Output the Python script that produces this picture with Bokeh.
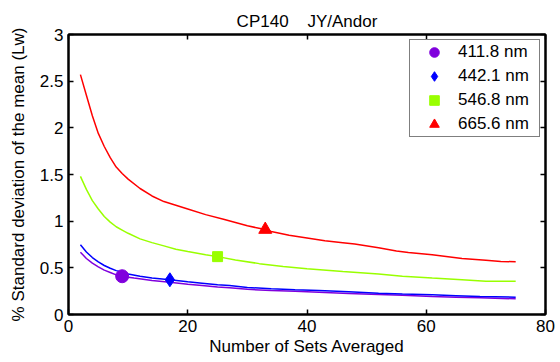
from bokeh.plotting import figure
from bokeh.models import Range1d, LinearAxis, Legend, LegendItem, FixedTicker
from bokeh.embed import file_html
from bokeh.resources import INLINE

# ---- data ----
x_purple = [2, 3, 4, 5, 6, 7, 8, 9, 10, 11, 14, 17, 20, 22.4, 25, 27, 30, 34, 38, 42, 47, 52, 56, 61, 65, 69, 75]
y_purple = [0.668, 0.60, 0.55, 0.51, 0.475, 0.45, 0.425, 0.41, 0.40, 0.39, 0.365, 0.345, 0.325, 0.311, 0.295,
            0.286, 0.27, 0.257, 0.248, 0.239, 0.226, 0.214, 0.205, 0.193, 0.186, 0.179, 0.168]

x_blue = [2, 3, 4, 5, 6, 7, 8, 9, 10, 12, 14, 17, 20, 22.4, 25, 27, 30, 34, 38, 42, 47, 52, 56, 61, 65, 69, 75]
y_blue = [0.747, 0.67, 0.61, 0.565, 0.525, 0.495, 0.47, 0.455, 0.435, 0.41, 0.39, 0.372, 0.35, 0.336, 0.318,
          0.31, 0.29, 0.275, 0.265, 0.257, 0.243, 0.228, 0.22, 0.211, 0.202, 0.193, 0.186]

x_green = [2, 3, 4, 5, 6, 7, 8, 9, 10, 12, 14, 16, 18, 20, 23, 25, 28, 32, 36, 40, 46, 52, 56, 61, 66, 70, 75]
y_green = [1.48, 1.34, 1.22, 1.13, 1.05, 0.99, 0.94, 0.905, 0.87, 0.81, 0.77, 0.735, 0.70, 0.675, 0.64, 0.62,
           0.585, 0.545, 0.515, 0.49, 0.46, 0.435, 0.41, 0.39, 0.372, 0.357, 0.357]

x_red = [2, 3, 4, 5, 6, 7, 8, 9, 10, 12, 14, 16, 18, 20, 23, 26, 30, 33, 34, 37, 40, 43, 46, 48, 52, 55, 57,
         61, 66, 70, 72.5, 75]
y_red = [2.57, 2.35, 2.13, 1.94, 1.80, 1.68, 1.58, 1.51, 1.45, 1.35, 1.27, 1.21, 1.17, 1.13, 1.07, 1.02, 0.95,
         0.91, 0.89, 0.85, 0.82, 0.79, 0.77, 0.755, 0.715, 0.68, 0.665, 0.64, 0.60, 0.58, 0.568, 0.565]

labels = ["411.8 nm", "442.1 nm", "546.8 nm", "665.6 nm"]
marker_x = [9, 17, 25, 33]
marker_y = [0.41, 0.372, 0.62, 0.91]

x_ticks = [0, 20, 40, 60, 80]
y_ticks = [0, 0.5, 1, 1.5, 2, 2.5, 3]

colors = ["#8000DD", "#0000FF", "#99FF00", "#FF0000"]
markers = ["circle", "diamond", "square", "triangle"]
msizes = [13, 14, 10, 13]

FONT = "Liberation Sans"
FS = "17px"

p = figure(width=560, height=362, output_backend="svg", toolbar_location=None,
           x_range=Range1d(0, 80), y_range=Range1d(0, 3),
           min_border_left=68, min_border_right=15, min_border_top=34, min_border_bottom=48,
           title="CP140\u00a0\u00a0\u00a0\u00a0JY/Andor")
p.title.text_font = FONT
p.title.text_font_size = FS
p.title.text_font_style = "normal"
p.title.align = "center"
p.title.text_color = "black"
p.title.vertical_align = "top"
p.title.standoff = 3

p.xgrid.visible = False
p.ygrid.visible = False
p.outline_line_color = "black"
p.outline_line_width = 2
p.background_fill_color = "white"
p.border_fill_color = "white"

# extra axes for top/right tick marks
p.add_layout(LinearAxis(), "above")
p.add_layout(LinearAxis(), "right")

for ax in p.xaxis:
    ax.ticker = FixedTicker(ticks=x_ticks)
for ax in p.yaxis:
    ax.ticker = FixedTicker(ticks=y_ticks)

for ax in list(p.xaxis) + list(p.yaxis):
    ax.major_tick_in = 5
    ax.major_tick_out = 0
    ax.minor_tick_line_color = None
    ax.major_tick_line_color = "black"
    ax.major_tick_line_width = 1.5
    ax.axis_line_color = "black"
    ax.axis_line_width = 2
    ax.major_label_text_font = FONT
    ax.major_label_text_font_size = FS
    ax.major_label_text_color = "black"
    ax.axis_label_text_font = FONT
    ax.axis_label_text_font_size = FS
    ax.axis_label_text_font_style = "normal"
    ax.axis_label_text_color = "black"

for ax in (p.above[0], p.right[0]):
    ax.major_label_text_font_size = "0px"
    ax.major_label_text_color = None
    ax.major_label_standoff = 0

p.below[0].axis_label = "Number of Sets Averaged"
p.below[0].major_label_standoff = 5
p.below[0].axis_label_standoff = 2
p.left[0].axis_label = "% Standard deviation of the mean (Lw)"
p.left[0].major_label_standoff = 5
p.left[0].axis_label_standoff = 9

xs = [x_purple, x_blue, x_green, x_red]
ys = [y_purple, y_blue, y_green, y_red]
for i in range(4):
    p.line(xs[i], ys[i], line_color=colors[i], line_width=1.5)

items = []
for i in range(4):
    r = p.scatter([marker_x[i]], [marker_y[i]], marker=markers[i], size=msizes[i],
                  fill_color=colors[i], line_color=colors[i])
    items.append(LegendItem(label=labels[i], renderers=[r]))

legend = Legend(items=items, location="top_right")
legend.label_text_font = FONT
legend.label_text_font_size = FS
legend.label_text_color = "black"
legend.border_line_color = "black"
legend.border_line_width = 1
legend.background_fill_color = "white"
legend.background_fill_alpha = 1
legend.padding = 0
legend.spacing = 0
legend.glyph_height = 24
legend.glyph_width = 48
legend.label_standoff = 0
legend.label_width = 81
legend.label_height = 24
legend.margin = 5
p.add_layout(legend)

open("out.html", "w").write(file_html(p, INLINE))
